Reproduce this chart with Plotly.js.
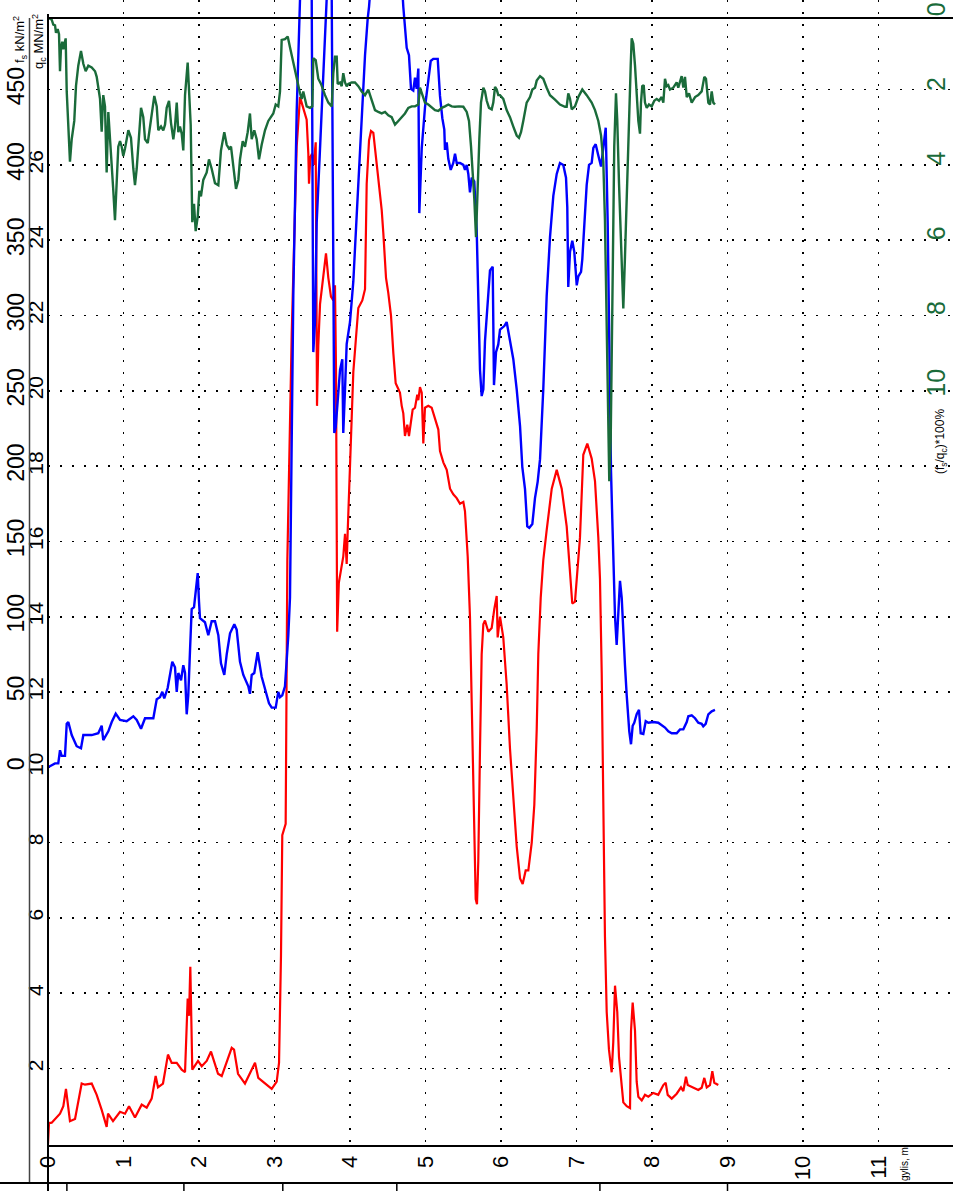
<!DOCTYPE html>
<html>
<head>
<meta charset="utf-8">
<script src="https://cdn.plot.ly/plotly-3.0.1.min.js"></script>
<style>html,body{margin:0;padding:0;background:#fff;}#chart{width:953px;height:1191px;}</style>
</head>
<body>
<div id="chart"></div>
<script>
// ---- depth axis (gylis, m) ----
const depthTicks = [0,1,2,3,4,5,6,7,8,9,10,11];
const layerBounds = [0.25, 1.80, 3.11, 4.62, 7.31, 9.00];

// ---- q_c (MN/m2), red ----
const qDepth = [
0.000,0.013,0.049,0.159,0.203,0.238,0.291,0.358,0.446,0.490,
0.579,0.645,0.711,0.777,0.795,0.861,0.954,1.020,1.073,1.152,
1.241,1.307,1.373,1.426,1.457,1.523,1.589,1.638,1.705,1.771,
1.815,1.850,1.868,1.885,1.911,1.987,2.036,2.102,2.159,2.252,
2.301,2.384,2.433,2.464,2.517,2.609,2.675,2.742,2.785,2.874,
2.963,3.029,3.060,3.086,3.103,3.148,3.170,3.228,3.294,3.338,
3.381,3.426,3.448,3.457,3.474,3.497,3.519,3.546,3.563,3.580,
3.603,3.646,3.682,3.713,3.748,3.779,3.801,3.815,3.830,3.852,
3.890,3.911,3.934,3.956,3.970,4.000,4.044,4.110,4.163,4.199,
4.221,4.252,4.278,4.309,4.354,4.384,4.420,4.441,4.464,4.477,
4.507,4.543,4.574,4.605,4.640,4.662,4.685,4.706,4.728,4.759,
4.781,4.808,4.830,4.861,4.891,4.905,4.927,4.950,4.971,4.993,
5.037,5.082,5.126,5.170,5.192,5.236,5.281,5.325,5.368,5.413,
5.457,5.501,5.523,5.559,5.589,5.612,5.633,5.665,5.682,5.699,
5.722,5.744,5.766,5.788,5.832,5.877,5.911,5.943,5.956,5.987,
6.030,6.075,6.119,6.163,6.208,6.252,6.287,6.327,6.362,6.407,
6.441,6.473,6.494,6.526,6.560,6.605,6.672,6.738,6.804,6.870,
6.914,6.944,6.980,7.003,7.046,7.090,7.143,7.201,7.245,7.289,
7.311,7.334,7.355,7.377,7.400,7.430,7.466,7.487,7.510,7.540,
7.563,7.599,7.620,7.665,7.709,7.722,7.744,7.775,7.797,7.819,
7.864,7.907,7.951,8.017,8.083,8.150,8.181,8.208,8.261,8.327,
8.384,8.415,8.450,8.473,8.547,8.613,8.658,8.693,8.725,8.768,
8.799,8.825,8.878];
const qValue = [
0.0,0.55,0.56,0.80,1.00,1.46,0.60,0.66,1.60,1.57,
1.60,1.30,0.90,0.45,0.80,0.60,0.85,0.80,1.00,0.70,
1.04,0.96,1.20,1.80,1.50,1.60,2.37,2.15,2.15,1.97,
1.90,3.86,3.40,4.70,1.97,2.20,2.06,2.20,2.45,1.86,
1.80,2.26,2.55,2.50,1.86,1.60,1.86,2.15,1.75,1.60,
1.46,1.65,2.15,5.00,8.20,8.50,15.5,21.5,26.5,27.8,
27.5,27.2,26.3,25.5,26.2,26.3,26.0,26.6,19.6,21.2,
22.3,23.1,23.65,23.0,22.5,22.4,22.8,20.5,13.6,14.9,
15.3,15.6,16.2,15.4,16.3,18.1,20.5,22.2,22.4,22.7,
25.5,26.65,26.9,26.85,26.0,25.3,24.8,24.2,23.6,23.0,
22.6,22.0,21.0,20.2,20.05,19.95,19.6,19.4,18.8,19.1,
18.8,19.25,19.5,19.55,19.9,19.75,20.1,19.95,18.6,19.55,
19.6,19.55,19.25,18.97,18.4,18.1,17.9,17.4,17.25,17.15,
17.0,17.05,16.8,15.6,14.0,11.5,9.0,6.5,6.36,7.5,
10.5,13.0,13.8,13.9,13.6,13.7,14.2,14.55,13.45,14.0,
13.45,12.2,10.5,9.1,7.9,7.05,6.9,7.26,7.26,8.0,
9.0,11.0,13.0,14.5,15.5,16.3,17.4,17.9,17.4,16.4,
15.3,14.35,14.4,15.0,16.1,18.3,18.6,18.2,17.6,16.1,
15.0,12.5,8.5,5.5,3.5,2.5,1.9,2.7,4.2,3.5,
2.3,1.5,1.1,1.0,0.95,3.0,3.75,3.0,1.65,1.25,
1.15,1.3,1.25,1.35,1.3,1.56,1.62,1.3,1.2,1.33,
1.5,1.4,1.78,1.56,1.5,1.43,1.49,1.75,1.5,1.56,
1.93,1.62,1.56];

// ---- f_s (kN/m2), blue ----
const fDepth = [
0.000,0.093,0.136,0.159,0.181,0.225,0.248,0.269,0.314,0.380,
0.437,0.468,0.513,0.579,0.666,0.711,0.732,0.799,0.844,0.897,
0.954,1.042,1.130,1.175,1.232,1.285,1.351,1.395,1.440,1.483,
1.514,1.540,1.585,1.646,1.682,1.705,1.726,1.762,1.792,1.815,
1.837,1.858,1.881,1.903,1.934,1.956,1.983,2.000,2.013,2.079,
2.123,2.168,2.212,2.256,2.291,2.335,2.367,2.411,2.468,2.499,
2.543,2.587,2.653,2.675,2.698,2.732,2.777,2.830,2.874,2.927,
2.963,3.016,3.050,3.073,3.103,3.139,3.183,3.205,3.249,3.294,
3.338,3.404,3.493,3.514,3.536,3.559,3.603,3.646,3.669,3.691,
3.722,3.758,3.779,3.792,3.811,3.845,3.868,3.898,3.911,3.934,
3.956,4.000,4.044,4.089,4.132,4.176,4.199,4.234,4.252,4.397,
4.596,4.706,4.751,4.781,4.808,4.838,4.861,4.883,4.905,4.918,
4.950,4.993,5.037,5.069,5.103,5.162,5.192,5.223,5.249,5.258,
5.281,5.302,5.334,5.368,5.391,5.413,5.457,5.501,5.523,5.546,
5.567,5.589,5.612,5.646,5.678,5.699,5.722,5.744,5.766,5.788,
5.819,5.854,5.890,5.907,5.934,5.964,5.987,6.017,6.044,6.075,
6.119,6.163,6.208,6.252,6.282,6.318,6.348,6.375,6.415,6.450,
6.486,6.517,6.560,6.605,6.649,6.693,6.738,6.781,6.825,6.861,
6.878,6.891,6.914,6.944,6.971,7.003,7.024,7.060,7.077,7.103,
7.135,7.166,7.201,7.223,7.254,7.289,7.325,7.355,7.387,7.413,
7.430,7.444,7.457,7.474,7.487,7.510,7.532,7.553,7.576,7.599,
7.620,7.642,7.665,7.686,7.699,7.722,7.744,7.765,7.797,7.828,
7.850,7.885,7.917,7.951,8.017,8.083,8.128,8.172,8.216,8.261,
8.327,8.371,8.415,8.460,8.481,8.526,8.570,8.613,8.658,8.679,
8.711,8.746,8.791,8.834];
const fValue = [
0,2.6,2.6,11.3,7.6,7.6,28.9,30.1,21.4,14.0,
12.6,21.4,21.4,21.4,22.6,27.6,18.1,23.9,30.1,35.6,
31.4,30.6,33.9,31.4,25.6,32.6,32.6,32.6,45.2,46.5,
50.1,45.8,52.6,70.1,66.4,50.0,62.6,57.8,67.8,62.6,
35.2,47.8,77.7,105,106.3,117.6,129,110,99,96.3,
87.7,97,97,87.7,69,61.3,75,89,95,91.4,
70,61.3,53.8,48.8,61.3,62.6,76.4,60.1,52.6,42.5,
39.6,39.6,50.1,46.5,47.8,53.8,87.7,112.6,313,436,
510,600,510,275.7,295.7,362,411,460,485,510,
545,510,362,222,226,248.8,263.8,271,222,251,
281,295.7,322.6,366.8,411,455.5,472.8,497,505,600,
600,505,477.7,472.8,450.5,449.4,458,450.5,464,368,
411,438,455.5,469,470.4,470.4,445.8,431,423.5,410,
415,404,396.7,401.3,407.5,401.3,401.3,400,396.7,400,
394,381.7,391.5,389,357,300,263.8,246.5,251,283,
307.8,330,332.4,253.8,275.7,280.8,290.6,291.8,293,295.7,
283,271,251,226.6,199.5,184.7,160,159,161.5,178.7,
189.7,204.6,251,313,352,379.4,394,401.3,400,391.5,
371.8,319,342.3,349.7,342.3,320,326,329,337.5,362,
386.7,400,401.3,411.3,413.7,406.3,398.9,411.3,424.7,362,
288,239,197,165,137.5,100,81.3,100,123.8,112.6,
87.7,67.8,47.8,27.6,23.9,15.3,27.6,29.6,35.2,38.1,
22.6,22.1,30.6,29.6,30.1,29.6,28.1,26.4,23.9,22.6,
22.6,25.2,25.2,30.1,33.9,34.5,32.6,29.6,28.9,27.2,
28.9,35.2,37.2,38.1];

// ---- (f_s/q_c)*100 %, green ----
const rDepth = [
0.004,0.049,0.070,0.093,0.106,0.128,0.146,0.159,0.172,0.189,
0.203,0.216,0.234,0.248,0.269,0.291,0.314,0.348,0.371,0.401,
0.437,0.468,0.499,0.534,0.579,0.623,0.645,0.666,0.689,0.711,
0.732,0.755,0.777,0.799,0.821,0.844,0.865,0.887,0.910,0.931,
0.954,0.976,0.997,1.020,1.064,1.099,1.130,1.152,1.175,1.205,
1.232,1.262,1.285,1.321,1.351,1.373,1.408,1.440,1.461,1.497,
1.527,1.550,1.572,1.603,1.629,1.660,1.682,1.705,1.726,1.748,
1.771,1.792,1.815,1.850,1.871,1.890,1.911,1.934,1.956,1.983,
2.004,2.026,2.057,2.102,2.132,2.168,2.212,2.256,2.291,2.335,
2.367,2.397,2.424,2.454,2.490,2.521,2.543,2.579,2.609,2.645,
2.675,2.698,2.732,2.764,2.795,2.830,2.874,2.918,2.984,3.016,
3.050,3.073,3.095,3.139,3.175,3.205,3.249,3.294,3.338,3.360,
3.381,3.404,3.426,3.470,3.501,3.514,3.546,3.580,3.616,3.669,
3.713,3.758,3.779,3.801,3.824,3.837,3.868,3.890,3.911,3.934,
3.956,3.977,4.022,4.066,4.110,4.155,4.199,4.242,4.287,4.331,
4.375,4.420,4.464,4.507,4.552,4.596,4.640,4.685,4.728,4.772,
4.817,4.861,4.905,4.927,4.950,4.993,5.037,5.082,5.126,5.170,
5.215,5.258,5.302,5.347,5.391,5.444,5.501,5.546,5.576,5.603,
5.625,5.646,5.669,5.691,5.713,5.735,5.766,5.788,5.811,5.841,
5.877,5.898,5.921,5.943,5.964,5.987,6.030,6.075,6.119,6.163,
6.208,6.238,6.265,6.295,6.340,6.384,6.415,6.450,6.473,6.517,
6.560,6.605,6.649,6.715,6.781,6.848,6.870,6.891,6.914,6.937,
6.980,7.024,7.077,7.135,7.201,7.245,7.289,7.325,7.355,7.377,
7.400,7.421,7.434,7.453,7.466,7.479,7.500,7.523,7.540,7.563,
7.585,7.606,7.620,7.642,7.665,7.686,7.699,7.718,7.731,7.752,
7.775,7.797,7.819,7.841,7.854,7.871,7.890,7.907,7.930,7.960,
7.996,8.030,8.062,8.093,8.128,8.150,8.172,8.195,8.216,8.238,
8.282,8.327,8.348,8.393,8.415,8.437,8.460,8.490,8.526,8.570,
8.613,8.658,8.693,8.715,8.746,8.768,8.791,8.812,8.834];
const rValue = [
0.13,0.18,0.31,0.33,0.53,0.43,0.57,1.56,0.92,0.77,
0.97,0.80,0.68,2.10,2.89,3.98,3.38,2.89,1.95,1.41,
1.02,1.36,1.56,1.41,1.46,1.56,1.71,2.00,2.30,3.18,
2.20,2.50,4.27,2.65,3.28,3.98,4.76,5.55,4.56,3.58,
3.43,3.58,3.83,3.63,3.14,3.34,4.17,4.61,4.17,3.18,
2.54,2.79,3.38,3.48,3.09,2.69,2.22,2.50,3.14,3.04,
3.14,2.99,2.54,2.35,2.94,3.38,3.04,2.40,3.19,3.04,
3.23,3.68,2.20,1.33,2.15,2.99,5.60,5.11,5.84,5.45,
4.76,4.91,4.47,4.27,3.92,4.17,4.56,4.61,3.68,3.19,
3.53,3.63,3.58,4.17,4.71,4.47,3.92,3.43,3.58,3.19,
2.69,3.38,3.14,3.38,3.92,3.53,3.14,2.89,2.69,2.45,
2.50,2.10,0.72,0.70,0.63,0.92,1.36,1.76,2.15,2.30,
2.10,2.30,2.50,2.54,2.50,1.21,1.26,1.76,1.90,2.20,
2.40,2.50,1.61,1.17,1.17,1.90,1.86,1.96,1.61,1.86,
1.96,1.90,1.86,1.86,1.96,2.10,2.20,2.05,2.30,2.60,
2.65,2.69,2.65,2.74,2.79,2.99,2.89,2.79,2.69,2.54,
2.50,2.50,2.45,2.00,2.15,2.40,2.45,2.54,2.60,2.62,
2.54,2.50,2.45,2.50,2.51,2.50,2.51,2.65,2.89,3.58,
4.27,4.96,6.00,4.56,3.38,2.40,2.00,2.10,2.35,2.54,
2.58,2.40,1.98,2.05,2.20,2.20,2.30,2.60,2.79,3.04,
3.28,3.34,3.19,2.89,2.40,2.25,2.05,2.00,1.81,1.69,
1.76,2.00,2.20,2.32,2.45,2.51,2.51,2.15,2.30,2.58,
2.50,2.25,2.05,2.20,2.40,2.60,2.89,3.28,3.98,5.55,
8.50,10.97,12.54,11.45,9.50,6.53,3.58,2.15,2.89,4.56,
6.04,7.33,7.91,6.53,4.76,3.38,2.69,1.41,0.68,0.82,
1.41,2.10,2.89,3.23,2.40,1.96,1.93,2.40,2.54,2.45,
2.50,2.35,2.30,2.35,2.25,2.40,1.76,1.96,1.93,2.05,
2.00,1.86,2.00,1.69,2.00,1.71,2.25,2.15,2.40,2.25,
2.20,2.10,1.71,1.76,2.40,2.45,2.10,2.40,2.45];

// ---- tick labels ----
const qGrid = [2,4,6,8,10,12,14,16,18,20,22,24,26,28];
const qLabels = ['2','4','6','8','10','12','14','16','18','20','22','24','26',''];
const fTicks = [0,50,100,150,200,250,300,350,400,450];
const rTicks = [0,2,4,6,8,10];

const GREEN = '#1a6b3a';
const NARROW = "'Liberation Sans Narrow', 'Liberation Sans', Arial, sans-serif";
const SANS = "'Liberation Sans', Arial, sans-serif";
const DOTS = '2px,10px';

const traces = [
  {x: fDepth, y: fValue, yaxis: 'y2', type: 'scatter', mode: 'lines',
   line: {color: '#0000ff', width: 2.4}, hoverinfo: 'skip'},
  {x: qDepth, y: qValue, yaxis: 'y', type: 'scatter', mode: 'lines',
   line: {color: '#ff0000', width: 2.2}, hoverinfo: 'skip'},
  {x: rDepth, y: rValue, yaxis: 'y3', type: 'scatter', mode: 'lines',
   line: {color: GREEN, width: 2.4}, hoverinfo: 'skip'}
];

// pixel helpers for frame decorations (paper coords)
const W = 953, H = 1191, ML = 29, MB = 46, PH = H - MB, PW = W - ML;
const px = v => (v - ML) / PW;
const py = v => (PH - v) / PH;

const shapes = [
  {type: 'line', xref: 'paper', yref: 'paper', x0: px(48), x1: 1, y0: py(18), y1: py(18), line: {color: '#000', width: 2}},
  {type: 'line', xref: 'paper', yref: 'paper', x0: px(48), x1: px(48), y0: py(14), y1: py(1191), line: {color: '#000', width: 2}},
  {type: 'line', xref: 'paper', yref: 'paper', x0: px(29.5), x1: px(29.5), y0: py(18), y1: py(1183), line: {color: '#444', width: 1.5}},
  {type: 'line', xref: 'paper', yref: 'paper', x0: px(0), x1: 1, y0: py(1183), y1: py(1183), line: {color: '#000', width: 2}}
];
layerBounds.forEach(b => shapes.push({type: 'line', xref: 'x', yref: 'paper', x0: b, x1: b, y0: py(1183), y1: py(1191), line: {color: '#000', width: 1.5}}));

const annotations = [
  {xref: 'paper', yref: 'paper', x: px(20), y: py(40), text: 'f<sub>s</sub> kN/m<sup>2</sup>', showarrow: false, textangle: -90, font: {family: SANS, size: 13, color: '#000'}, xanchor: 'center', yanchor: 'middle'},
  {xref: 'paper', yref: 'paper', x: px(39), y: py(42), text: 'q<sub>c</sub> MN/m<sup>2</sup>', showarrow: false, textangle: -90, font: {family: SANS, size: 13, color: '#000'}, xanchor: 'center', yanchor: 'middle'},
  {xref: 'paper', yref: 'paper', x: px(941), y: py(442), text: '(f<sub>s</sub>/q<sub>c</sub>)*100%', showarrow: false, textangle: -90, font: {family: SANS, size: 12, color: '#000'}, xanchor: 'center', yanchor: 'middle'},
  {xref: 'paper', yref: 'paper', x: px(904), y: py(1164), text: 'gylis, m', showarrow: false, textangle: -90, font: {family: SANS, size: 10, color: '#000'}, xanchor: 'center', yanchor: 'middle'}
];

const layout = {
  width: W, height: H,
  margin: {l: ML, r: 0, t: 0, b: MB, pad: 0},
  paper_bgcolor: '#ffffff', plot_bgcolor: '#ffffff',
  showlegend: false,
  xaxis: {domain: [px(48), 1], range: [0, 905 / 75.5], tickvals: depthTicks, tickangle: -90,
          showline: true, linecolor: '#000', linewidth: 2, ticks: '', zeroline: false,
          showgrid: true, gridcolor: '#000', gridwidth: 1.6, griddash: DOTS,
          tickfont: {family: SANS, size: 22, color: '#000'}, automargin: false, fixedrange: true},
  yaxis: {range: [-0.032, 30.38], tickvals: qGrid, ticktext: qLabels, tickangle: -90,
          showline: false, ticks: '', zeroline: false,
          showgrid: true, gridcolor: '#000', gridwidth: 1.6, griddash: DOTS,
          tickfont: {family: NARROW, size: 21, color: '#000'}, automargin: false, fixedrange: true},
  yaxis2: {overlaying: 'y', anchor: 'free', position: 0, side: 'left', range: [-250.8, 509.5],
           tickvals: fTicks, tickangle: -90, showline: false, ticks: '', zeroline: false, showgrid: false,
           tickfont: {family: NARROW, size: 23, color: '#000'}, automargin: false, fixedrange: true},
  yaxis3: {overlaying: 'y', anchor: 'x', side: 'right', range: [30.31, -0.348],
           tickvals: rTicks, tickangle: -90, ticklabelposition: 'inside', showline: false, ticks: '',
           zeroline: false, showgrid: false,
           tickfont: {family: SANS, size: 25, color: GREEN}, automargin: false, fixedrange: true},
  shapes: shapes,
  annotations: annotations
};

Plotly.newPlot('chart', traces, layout, {staticPlot: true, displayModeBar: false});
</script>
</body>
</html>
